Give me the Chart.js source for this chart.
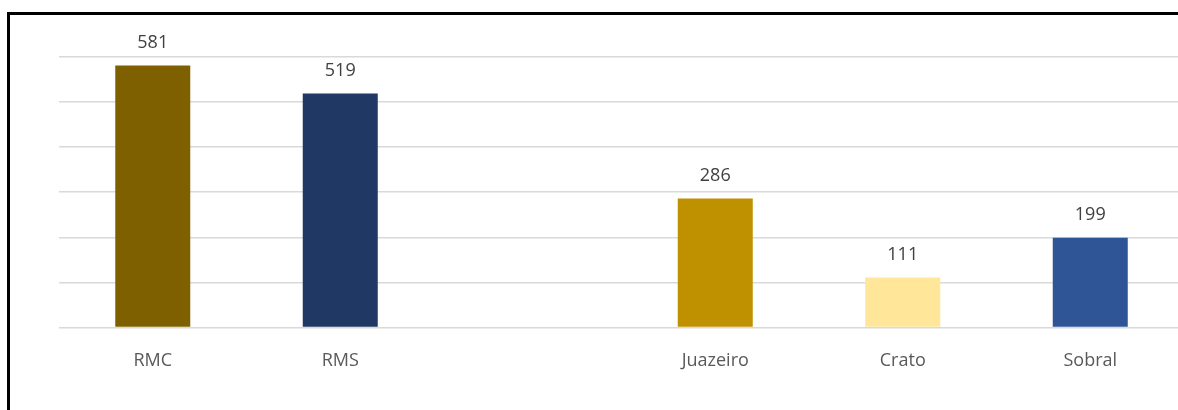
<!DOCTYPE html>
<html>
    <head>
        <title>Regiões</title>
        <script src="https://cdn.jsdelivr.net/npm/chart.js"></script>
    </head>

    <body>
        <div class="frame"></div> <!-- black outline of the figure -->
        <div class="wrap"><canvas id="myChart"></canvas></div>
        <script>
            // data
            const labels = ['RMC', 'RMS', '', 'Juazeiro', 'Crato', 'Sobral'];
            const values = [581, 519, null, 286, 111, 199];
            const colors = ['#7F6000', '#1F3864', '#ffffff', '#BF9000', '#FFE699', '#2F5597'];

            const yMax = 600;
            const yStep = 100;

            // value above each bar
            const valueLabels = {
                id: 'valueLabels',
                afterDatasetsDraw(chart) {
                    const ctx = chart.ctx;
                    const meta = chart.getDatasetMeta(0);
                    ctx.save();
                    ctx.font = '18px "Open Sans"';
                    ctx.fillStyle = '#404040';
                    ctx.textAlign = 'center';
                    ctx.textBaseline = 'middle';
                    meta.data.forEach(function(bar, i) {
                        if (values[i] == null) return;
                        ctx.fillText(values[i], bar.x, bar.y - 23);
                    });
                    ctx.restore();
                }
            };

            const ctx = document.getElementById('myChart');
            const chart = new Chart(ctx, {
                type: 'bar',
                data: {
                    labels: labels,
                    datasets: [{
                        data: values,
                        backgroundColor: colors,
                        borderWidth: 0,
                        barPercentage: 0.4,
                        categoryPercentage: 1
                    }]
                },
                options: {
                    responsive: true,
                    maintainAspectRatio: false,
                    animation: false,
                    layout: {
                        padding: { left: 59, right: 16, top: 57, bottom: 15 }
                    },
                    scales: {
                        x: {
                            grid: { display: false, drawTicks: false },
                            border: { display: false },
                            ticks: {
                                padding: 23,
                                color: '#595959',
                                font: { family: 'Open Sans', size: 18 }
                            }
                        },
                        y: {
                            min: 0,
                            max: yMax,
                            ticks: { display: false, stepSize: yStep },
                            grid: { color: '#d9d9d9', lineWidth: 1.5, drawTicks: false },
                            border: { display: false }
                        }
                    },
                    plugins: {
                        legend: { display: false },
                        tooltip: { enabled: false }
                    }
                },
                plugins: [valueLabels]
            });
        </script>
    </body>
</html>

<style>
    body {
        margin: 0;
        background: #ffffff;
        overflow: hidden;
        width: 1178px;
        height: 410px;
    }

    .wrap {
        position: absolute;
        left: 0;
        top: 0;
        width: 1200px;
        height: 410px;
    }

    .frame {
        position: absolute;
        left: 7px;
        top: 12px;
        width: 1300px;
        height: 500px;
        border: 3px solid #000000;
        z-index: 2;
        pointer-events: none;
    }
</style>
